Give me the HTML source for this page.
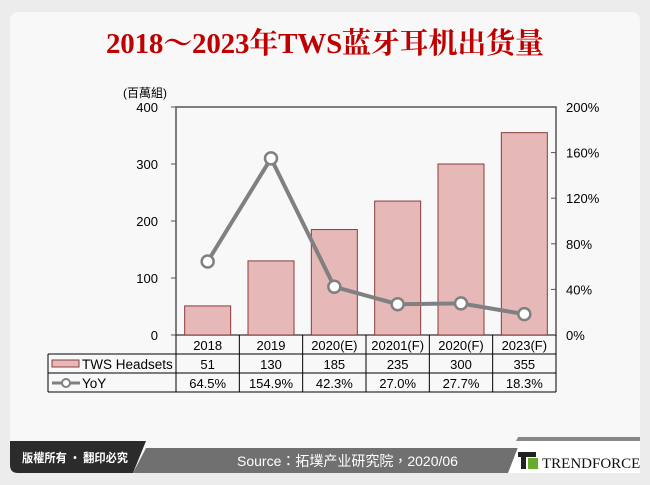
<!DOCTYPE html>
<html><head><meta charset="utf-8">
<style>
body{margin:0;background:#ececec;width:650px;height:485px;overflow:hidden;font-family:"Liberation Sans","Noto Sans CJK TC",sans-serif;}
svg{position:absolute;left:0;top:0}
</style></head>
<body>
<svg id="c" width="650" height="485" xmlns="http://www.w3.org/2000/svg">
<rect x="10" y="12" width="630" height="461" rx="8" fill="#f8f8f8"/>
<text x="325" y="53" text-anchor="middle" font-family="Liberation Serif, Noto Serif CJK SC, serif" font-weight="bold" font-size="29" fill="#c00000" textLength="438" lengthAdjust="spacing">2018～2023年TWS蓝牙耳机出货量</text>
<text x="123" y="97" font-size="12" fill="#000">(百萬組)</text>
<g id="plot"></g>
<path d="M10 441 H146 L133 473 H18 Q10 473 10 465 Z" fill="#2b2b2b"/>
<text x="22" y="462" font-size="12" font-weight="bold" fill="#fff" font-family="Noto Sans CJK TC, sans-serif" textLength="106" lengthAdjust="spacingAndGlyphs">版權所有 · 翻印必究</text>
<path d="M146 448 H520 L510 473 H133 Z" fill="#707070"/>
<text x="237" y="466" font-size="14" fill="#fff">Source：拓墣产业研究院，2020/06</text>
<path d="M522 437 H640 V473 H508 Z" fill="#fff"/>
<path d="M518 437 H640 V441 H516 Z" fill="#888"/>
<rect x="518" y="452" width="18" height="5" fill="#222"/>
<rect x="521" y="457" width="5" height="12" fill="#222"/>
<rect x="528" y="458" width="10" height="11" fill="#6aaa2a"/>
<text x="542" y="468" font-family="Liberation Serif, serif" font-size="15" fill="#111">TRENDFORCE</text>
</svg>
<script>
const categories=["2018","2019","2020(E)","20201(F)","2020(F)","2023(F)"];
const shipments=[51,130,185,235,300,355];
const yoy=[64.5,154.9,42.3,27.0,27.7,18.3];
const leftTicks=[0,100,200,300,400];
const rightTicks=[0,40,80,120,160,200];
const NS="http://www.w3.org/2000/svg";
const g=document.getElementById('plot');
const X0=176,X1=556,Y0=335,Y1=107;
const colW=(X1-X0)/categories.length;
const yL=v=>Y0-(v/400)*(Y0-Y1);
const yR=v=>Y0-(v/200)*(Y0-Y1);
const xC=i=>X0+colW*(i+0.5);
function el(t,a,txt){const e=document.createElementNS(NS,t);for(const k in a)e.setAttribute(k,a[k]);if(txt!==undefined)e.textContent=txt;g.appendChild(e);return e;}
let e=el('rect',{x:X0,y:Y1,width:X1-X0,height:Y0-Y1,fill:'none',stroke:'#555','stroke-width':1.5});


leftTicks.forEach(v=>{
 e=el('text',{x:158,y:yL(v)+5,'text-anchor':'end','font-size':13},v);
 
 
 el('line',{x1:X0-5,x2:X0,y1:yL(v),y2:yL(v),stroke:'#555'});
});
rightTicks.forEach(v=>{
 e=el('text',{x:566,y:yR(v)+5,'font-size':13},v+'%');
 
 
 el('line',{x1:X1-5,x2:X1,y1:yR(v),y2:yR(v),stroke:'#555'});
});
shipments.forEach((v,i)=>{
 e=el('rect',{x:xC(i)-23,y:yL(v),width:46,height:Y0-yL(v),fill:'#e6b9b8',stroke:'#8c3b3b','stroke-width':1});
 
 
});
e=el('polyline',{points:yoy.map((v,i)=>xC(i)+','+yR(v)).join(' '),fill:'none',stroke:'#808080','stroke-width':4});


yoy.forEach((v,i)=>{
 e=el('circle',{cx:xC(i),cy:yR(v),r:6,fill:'#fff',stroke:'#808080','stroke-width':2.5});
 
 
});
const TL=48;
el('line',{x1:TL,x2:X1,y1:354,y2:354,stroke:'#000'});
el('line',{x1:TL,x2:X1,y1:373,y2:373,stroke:'#000'});
el('line',{x1:TL,x2:X1,y1:392,y2:392,stroke:'#000'});
el('line',{x1:TL,x2:TL,y1:354,y2:392,stroke:'#000'});
for(let i=0;i<=categories.length;i++)el('line',{x1:X0+colW*i,x2:X0+colW*i,y1:335,y2:392,stroke:'#000'});
categories.forEach((c,i)=>{
 e=el('text',{x:xC(i),y:350,'text-anchor':'middle','font-size':13},c);
 
 
 e=el('text',{x:xC(i),y:369,'text-anchor':'middle','font-size':13},shipments[i]);
 
 
 e=el('text',{x:xC(i),y:388,'text-anchor':'middle','font-size':13},yoy[i].toFixed(1)+'%');
 
 
});
e=el('rect',{x:52,y:360,width:27,height:7,fill:'#e6b9b8',stroke:'#8c3b3b'});


e=el('text',{x:82,y:369,'font-size':13.5},'TWS Headsets');


el('line',{x1:52,x2:80,y1:383,y2:383,stroke:'#808080','stroke-width':3});
e=el('circle',{cx:66,cy:383,r:4,fill:'#fff',stroke:'#808080','stroke-width':2});


e=el('text',{x:82,y:388,'font-size':13.5},'YoY');


</script>
</body></html>
